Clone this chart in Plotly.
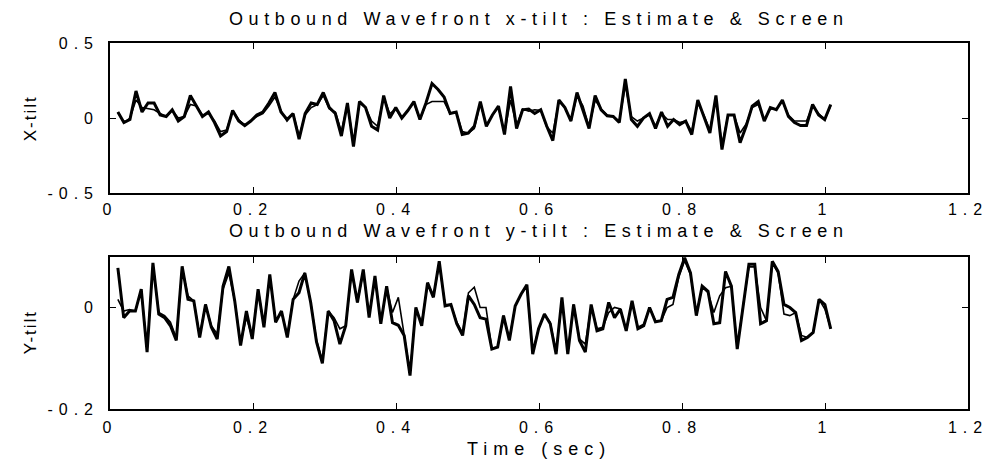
import numpy as np
import plotly.graph_objects as go

# x-tilt (top panel): screen (heavy line) and estimate (light line)
x_tilt_screen = [
    0.04, -0.03, -0.01, 0.18, 0.04, 0.10, 0.10, 0.02, 0.01, 0.055,
    -0.02, 0.01, 0.15, 0.08, 0.01, 0.04, -0.03, -0.12, -0.09, 0.05,
    -0.02, -0.05, -0.02, 0.02, 0.04, 0.10, 0.17, 0.04, -0.01, 0.03,
    -0.14, 0.03, 0.10, 0.09, 0.17, 0.07, 0.03, -0.12,
    0.10, -0.19, 0.11, 0.07, -0.055, -0.08, 0.15, 0.0, 0.07, 0.0,
    0.05, 0.11, -0.01, 0.10, 0.23, 0.19, 0.14, 0.03, 0.04, -0.11,
    -0.10, -0.055, 0.11, -0.055, 0.02, 0.08, -0.11, 0.21, -0.07, 0.055,
    0.06, 0.03, 0.055, -0.055, -0.15, 0.12, 0.07, -0.02, 0.17,
    0.05, -0.07, 0.15, 0.055, 0.015, 0.01, -0.03, 0.26, -0.01, -0.055,
    0.0, 0.03, -0.07, 0.04, -0.055, -0.01, -0.044, -0.02, -0.11, 0.12,
    0.01, -0.10, 0.15, -0.21, 0.02, 0.02, -0.165, -0.055, 0.08, 0.11,
    -0.02, 0.07, 0.055, 0.12, 0.01, -0.03, -0.05, -0.05, 0.09, 0.02,
    -0.01, 0.09,
]
x_tilt_estimate = [
    0.04, -0.03, 0.0, 0.12, 0.07, 0.06, 0.055, 0.03, 0.01, 0.05,
    0.0, 0.01, 0.09, 0.08, 0.02, 0.03, -0.02, -0.09, -0.08, 0.05,
    -0.01, -0.05, -0.02, 0.01, 0.03, 0.08, 0.14, 0.05, -0.02, 0.03,
    -0.12, 0.02, 0.07, 0.09, 0.15, 0.06, 0.04, -0.09,
    0.09, -0.16, 0.10, 0.07, -0.02, -0.055, 0.14, 0.03, 0.06, 0.0,
    0.05, 0.10, -0.01, 0.09, 0.11, 0.11, 0.11, 0.03, 0.04, -0.09,
    -0.10, -0.07, 0.10, -0.05, 0.02, 0.07, -0.10, 0.12, -0.05, 0.06,
    0.045, 0.055, 0.05, -0.06, -0.10, 0.11, 0.07, -0.02, 0.15,
    0.08, -0.06, 0.12, 0.06, 0.02, 0.01, -0.02, 0.22, 0.01, -0.02,
    0.0, 0.02, -0.05, 0.03, -0.01, -0.01, -0.03, -0.02, -0.09, 0.10,
    0.02, -0.08, 0.13, -0.18, 0.02, 0.02, -0.10, -0.04, 0.07, 0.09,
    -0.01, 0.06, 0.06, 0.11, 0.02, -0.02, -0.02, -0.02, 0.08, 0.03,
    -0.01, 0.08,
]

# y-tilt (bottom panel): screen (heavy line) and estimate (light line)
y_tilt_screen = [
    0.078, -0.02, -0.007, -0.007, 0.036, -0.088, 0.088, -0.013, -0.02, -0.036,
    -0.065, 0.081, 0.016, 0.013, -0.059, 0.006, -0.039, -0.062, 0.042, 0.081,
    0.013, -0.075, -0.007, -0.062, 0.036, -0.039, 0.065, -0.029, -0.007, -0.059,
    0.016, 0.029, 0.068, 0.010, -0.068, -0.11, -0.007, -0.026, -0.072, -0.036,
    0.075,
    0.010, 0.075, -0.02, 0.062, -0.032, 0.042, -0.03, -0.035, -0.055, -0.134,
    0.0, -0.036, 0.049, 0.02, 0.091, 0.003, 0.006, -0.032, -0.055, 0.023,
    0.006, -0.02, -0.023, -0.082, -0.078, -0.016, -0.065, 0.003, 0.026, 0.045,
    -0.092, -0.042, -0.013, -0.032, -0.092, 0.02, -0.092, 0.006, -0.065, -0.088,
    0.006,
    -0.046, -0.042, 0.010, -0.02, -0.003, -0.046, 0.013, -0.042, -0.036, 0.0,
    -0.028, -0.026, 0.016, 0.02, 0.065, 0.098, 0.068, -0.016, 0.042, 0.032,
    -0.032, -0.03, 0.071, 0.042, -0.082, 0.003, 0.085, 0.085, -0.032, -0.026,
    0.091, 0.071, 0.006, 0.0, -0.010, -0.065, -0.059, -0.049, 0.016, 0.006,
    -0.042,
]
y_tilt_estimate = [
    0.016, -0.007, -0.004, -0.007, 0.036, -0.085, 0.085, -0.010, -0.016, -0.029,
    -0.06, 0.078, 0.023, 0.013, -0.055, 0.006, -0.036, -0.052, 0.036, 0.068,
    0.013, -0.07, -0.02, -0.059, 0.036, -0.036, 0.062, -0.026, -0.010, -0.055,
    0.016, 0.052, 0.068, 0.010, -0.065, -0.105, -0.007, -0.02, -0.042, -0.036,
    0.07,
    0.010, 0.07, -0.016, 0.058, -0.029, 0.04, -0.01, 0.02, -0.05, -0.128,
    -0.003, -0.03, 0.045, 0.023, 0.085, 0.006, 0.006, -0.029, -0.05, 0.029,
    0.04, 0.0, 0.0, -0.08, -0.078, -0.016, -0.062, 0.003, 0.026, 0.042,
    -0.088, -0.042, -0.013, -0.029, -0.088, 0.016, -0.088, 0.006, -0.062, -0.072,
    0.003,
    -0.042, -0.039, -0.010, 0.0, -0.003, -0.046, 0.01, -0.039, -0.033, 0.0,
    -0.026, -0.026, 0.0, 0.006, 0.06, 0.092, 0.065, -0.013, 0.04, 0.029,
    -0.010, 0.023, 0.039, 0.042, -0.078, 0.003, 0.08, 0.08, 0.0, -0.026,
    0.088, 0.068, -0.013, -0.016, -0.010, -0.055, -0.059, -0.049, 0.016, -0.003,
    -0.042,
]

# sample times (sec)
t_x = np.linspace(0.011, 1.008, len(x_tilt_screen))
t_y = np.linspace(0.011, 1.008, len(y_tilt_screen))

x_ticks = [0, 0.2, 0.4, 0.6, 0.8, 1.0, 1.2]
x_tick_text = ["0", "0.2", "0.4", "0.6", "0.8", "1", "1.2"]
xt_ticks = [-0.5, 0, 0.5]
xt_tick_text = ["-0.5", "0", "0.5"]
yt_ticks = [-0.2, 0]
yt_tick_text = ["-0.2", "0"]

FONT = "Liberation Sans, Arial, Helvetica, sans-serif"
INK = "#000000"

fig = go.Figure()
fig.add_trace(go.Scatter(x=t_x, y=x_tilt_screen, mode="lines", name="Screen",
                         line=dict(color=INK, width=3.0), xaxis="x", yaxis="y"))
fig.add_trace(go.Scatter(x=t_x, y=x_tilt_estimate, mode="lines", name="Estimate",
                         line=dict(color=INK, width=1.6), xaxis="x", yaxis="y"))
fig.add_trace(go.Scatter(x=t_y, y=y_tilt_screen, mode="lines", name="Screen",
                         line=dict(color=INK, width=3.0), xaxis="x2", yaxis="y2"))
fig.add_trace(go.Scatter(x=t_y, y=y_tilt_estimate, mode="lines", name="Estimate",
                         line=dict(color=INK, width=1.6), xaxis="x2", yaxis="y2"))

axis_common = dict(
    showline=True, linecolor=INK, linewidth=1.6, mirror="ticks",
    ticks="inside", ticklen=6, tickwidth=1.3, tickcolor=INK,
    showgrid=False, zeroline=False,
    tickfont=dict(family=FONT, size=16, color=INK),
)

fig.update_layout(
    width=992, height=464,
    paper_bgcolor="white", plot_bgcolor="white",
    showlegend=False,
    margin=dict(l=110, r=24, t=43, b=55),
    xaxis=dict(axis_common, domain=[0, 1], range=[0, 1.2], anchor="y",
               tickvals=x_ticks, ticktext=x_tick_text, ticklabelstandoff=1),
    yaxis=dict(axis_common, domain=[0.590, 1.0], range=[-0.5, 0.5], anchor="x",
               tickvals=xt_ticks, ticktext=xt_tick_text, ticklabelstandoff=6),
    xaxis2=dict(axis_common, domain=[0, 1], range=[0, 1.2], anchor="y2",
                tickvals=x_ticks, ticktext=x_tick_text, ticklabelstandoff=3),
    yaxis2=dict(axis_common, domain=[0.0, 0.416], range=[-0.2, 0.1], anchor="x2",
                tickvals=yt_ticks, ticktext=yt_tick_text, ticklabelstandoff=6),
)

title_font = dict(family=FONT, size=18, color=INK)
fig.add_annotation(text="Outbound Wavefront x-tilt : Estimate & Screen",
                   x=0.5, y=1.066, xref="paper", yref="paper",
                   xanchor="center", yanchor="middle", showarrow=False, font=title_font)
fig.add_annotation(text="Outbound Wavefront y-tilt : Estimate & Screen",
                   x=0.5, y=0.487, xref="paper", yref="paper",
                   xanchor="center", yanchor="middle", showarrow=False, font=title_font)
fig.add_annotation(text="Time (sec)",
                   x=0.5, y=-0.109, xref="paper", yref="paper",
                   xanchor="center", yanchor="middle", showarrow=False, font=title_font)
fig.add_annotation(text="X-tilt", textangle=-90,
                   x=-0.093, y=0.795, xref="paper", yref="paper",
                   xanchor="center", yanchor="middle", showarrow=False,
                   font=dict(family=FONT, size=17, color=INK))
fig.add_annotation(text="Y-tilt", textangle=-90,
                   x=-0.093, y=0.21, xref="paper", yref="paper",
                   xanchor="center", yanchor="middle", showarrow=False,
                   font=dict(family=FONT, size=17, color=INK))

# widen the letter spacing of the labels, as in the printed figure
spacing_js = """
var gd = document.getElementById('{plot_id}');
gd.querySelectorAll('g.xtick text, g.ytick text, g.x2tick text, g.y2tick text').forEach(function(el){
  el.style.letterSpacing = '6px';
});
gd.querySelectorAll('.annotation-text').forEach(function(el){
  var s = el.textContent;
  if (s.indexOf('Outbound') === 0) { el.style.letterSpacing = '5.6px'; }
  else if (s.indexOf('Time') === 0) { el.style.letterSpacing = '6px'; }
  else { el.style.letterSpacing = '2px'; }
});
"""

fig.write_html("out.html", post_script=spacing_js)
